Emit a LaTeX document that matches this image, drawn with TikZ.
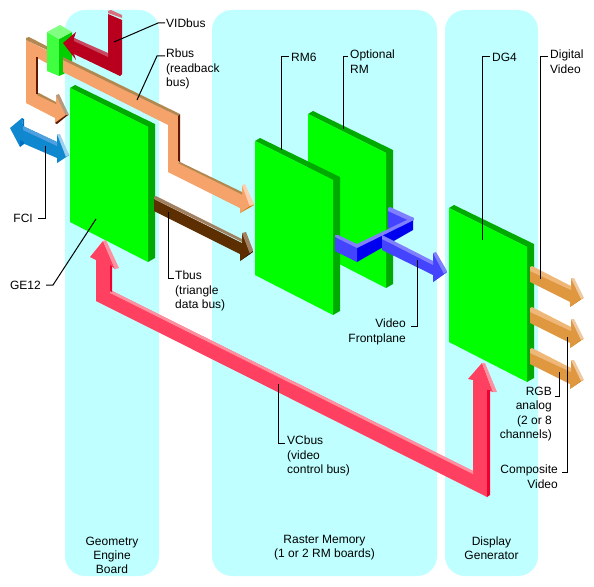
\documentclass[tikz,border=0pt]{standalone}
\usepackage{fontspec}
\setmainfont{Liberation Sans}
\usepackage{xcolor}
\usetikzlibrary{positioning}
\definecolor{panelcyan}{HTML}{BFFFFF}
\definecolor{boardface}{HTML}{00FF00}
\definecolor{boardedge}{HTML}{00AA00}
\definecolor{hubtop}{HTML}{80FF80}
\definecolor{hubface}{HTML}{40FF40}
\definecolor{hubside}{HTML}{00D000}
\definecolor{vidmain}{HTML}{B8001E}
\definecolor{vidlight}{HTML}{C84860}
\definecolor{vidcap}{HTML}{D87080}
\definecolor{rmain}{HTML}{F5A26B}
\definecolor{rstrip}{HTML}{B08850}
\definecolor{rcap}{HTML}{FFD0B0}
\definecolor{rdark}{HTML}{601800}
\definecolor{tmain}{HTML}{5C2E00}
\definecolor{tstrip}{HTML}{A08060}
\definecolor{tdark}{HTML}{201000}
\definecolor{fmain}{HTML}{1088D0}
\definecolor{fstrip}{HTML}{50A0E0}
\definecolor{fcap}{HTML}{A0D0F0}
\definecolor{fdark}{HTML}{0070C0}
\definecolor{vcmain}{HTML}{FF4060}
\definecolor{vcstrip}{HTML}{FF90A0}
\definecolor{vcdark}{HTML}{F00030}
\definecolor{fpmain}{HTML}{4444FF}
\definecolor{fpstrip}{HTML}{8080FF}
\definecolor{fpdark}{HTML}{0000F0}
\definecolor{outmain}{HTML}{E09840}
\definecolor{outstrip}{HTML}{F0B878}
\definecolor{outcap}{HTML}{F0C8A0}
\definecolor{outdark}{HTML}{D07800}
\begin{document}
\begin{tikzpicture}[x=1pt,y=-1pt,line join=miter]
    \tikzset{
      panel/.style={rounded corners=20pt,fill=panelcyan,minimum height=566pt,inner sep=0pt},
      lab/.style={inner sep=0pt,align=left,font=\fontsize{12}{14.3}\selectfont},
      caption/.style={inner sep=0pt,align=center,anchor=south,font=\fontsize{12}{14.3}\selectfont},
      leader/.style={draw=black,line width=1pt}
    }
    \useasboundingbox (0,0) rectangle (594,586);
    \node[panel,minimum width=94pt] (geompanel) at (112,293) {};
    \node[panel,minimum width=225pt] (rasterpanel) at (324.5,293) {};
    \node[panel,minimum width=93pt] (disppanel) at (491.5,293) {};
    \node[caption,above=2pt of geompanel.south] (geomcap) {Geometry\\Engine\\Board};
    \node[caption,above=16pt of rasterpanel.south] (rastercap) {Raster Memory\\(1 or 2 RM boards)};
    \node[caption,above=16pt of disppanel.south] (dispcap) {Display\\Generator};
    % boards
    \foreach \bx/\by in {70/88,308/114,255/141,449/208} {
      \begin{scope}[shift={(\bx,\by)}]
        \fill[boardedge] (0,0) -- (5,-3) -- (85,36) -- (85,170) -- (78,174) -- (78,39) -- cycle;
        \fill[boardface] (0,0) -- (78,39) -- (78,174) -- (0,134) -- cycle;
      \end{scope}
    }
    % Rbus left part
    \fill[rmain] (26,40) -- (60,57) -- (60,70) -- (37,58) -- (37,94) -- (56,103) -- (56,95) -- (68,115) -- (55,123) -- (55,118) -- (26,103) -- cycle;
    \fill[rstrip] (26,38) -- (29,37) -- (60,53) -- (60,56) -- (26,40) -- cycle;
    \fill[rstrip] (37,93) -- (39,93) -- (56,102) -- (56,104) -- (37,95) -- cycle;
    \fill[rdark] (36,57) -- (38,57) -- (38,94) -- (36,94) -- cycle;
    \fill[tstrip!80!white] (56,95) -- (59,94) -- (69,115) -- (66,116) -- cycle;
    \fill[rdark] (55,123) -- (66,115) -- (68,115) -- (57,124) -- cycle;
    % small block
    \fill[hubface] (47,32) -- (59,39) -- (59,76) -- (47,71) -- cycle;
    \fill[hubside] (59,39) -- (72,32) -- (72,70) -- (59,76) -- cycle;
    \fill[hubtop] (47,32) -- (60,25) -- (72,32) -- (59,39) -- cycle;
    % VIDbus
    \fill[vidmain] (108,14) -- (122,20) -- (122,74) -- (120,76) -- (74,54) -- (76,60) -- (63,43) -- (76,32) -- (74,38) -- (108,55) -- cycle;
    \fill[vidlight] (74,38) -- (108,53) -- (108,57) -- (74,41) -- cycle;
    \fill[vidcap] (108,11) -- (111,10) -- (122,15) -- (122,18) -- (108,13) -- cycle;
    % Rbus right part
    \fill[rmain] (63,59) -- (178,116) -- (178,162) -- (242,193) -- (242,185) -- (254,205) -- (240,213) -- (240,208) -- (168,172) -- (168,125) -- (63,72) -- cycle;
    \fill[rstrip] (63,57) -- (180,114) -- (178,116) -- (63,60) -- cycle;
    \fill[rdark] (178,116) -- (180,114) -- (180,162) -- (178,161) -- cycle;
    \fill[rstrip] (180,162) -- (242,192) -- (242,194.5) -- (178,163) -- cycle;
    \fill[rcap] (242,185) -- (245,184) -- (254,204) -- (250,207) -- cycle;
    \fill[outdark] (240,213) -- (250,206) -- (254,205) -- cycle;
    % Tbus
    \fill[tmain] (154,199) -- (242,243) -- (242,233) -- (253,252) -- (240,261) -- (240,254) -- (154,211) -- cycle;
    \fill[tstrip] (154,197) -- (156,196) -- (242,239) -- (242,242) -- (154,199) -- cycle;
    \fill[tstrip] (242,233) -- (246,232) -- (253,250) -- (250,254) -- cycle;
    \fill[tdark] (240,261) -- (250,254) -- (253,251) -- cycle;
    % FCI
    \fill[fmain] (10,128) -- (22,118) -- (23,126) -- (57,142) -- (57,134) -- (69,155) -- (57,163) -- (57,158) -- (20,142) -- (20,147) -- cycle;
    \fill[fstrip] (23,126) -- (57,142) -- (57,146) -- (23,130) -- cycle;
    \fill[fdark] (22,118) -- (24,119) -- (24,126) -- (23,126) -- cycle;
    \fill[fdark] (20,140) -- (24,142) -- (24,144) -- (20,147) -- cycle;
    \fill[fcap] (57,134) -- (60,134) -- (69,155) -- (66,157) -- cycle;
    \fill[fdark] (57,163) -- (66,157) -- (69,155) -- cycle;
    % VCbus
    \fill[vcmain] (103,241) -- (90,257) -- (96,260) -- (96,301) -- (487,497) -- (487,390) -- (493,392) -- (482,363) -- (468,379) -- (473,380) -- (473,471) -- (110,290) -- (110,265) -- (115,269) -- cycle;
    \fill[vcstrip] (110,290) -- (473,471) -- (473,474) -- (110,293) -- cycle;
    \fill[vcdark] (110,265) -- (112,266) -- (112,292) -- (110,291) -- cycle;
    \fill[vcdark] (487,390) -- (490,390) -- (490,495) -- (487,497) -- cycle;
    \fill[vcstrip] (103,241) -- (106,240) -- (119,268) -- (115,269) -- cycle;
    \fill[vcstrip] (482,363) -- (485,363) -- (497,392) -- (493,392) -- cycle;
    % Video frontplane
    \fill[fpmain] (388,210) -- (413,222) -- (393,232) -- (388,227) -- cycle;
    \fill[fpstrip] (388,208) -- (390,207) -- (414,218) -- (412,222) -- (388,211) -- cycle;
    \fill[fpdark] (357,247) -- (413,220) -- (413,230) -- (357,262) -- cycle;
    \fill[fpstrip] (357,244) -- (413,217) -- (414,220) -- (357,248) -- cycle;
    \fill[fpmain] (335,237) -- (357,247) -- (357,262) -- (335,251) -- cycle;
    \fill[fpstrip] (335,235) -- (338,235) -- (357,244) -- (357,248) -- (335,237) -- cycle;
    \fill[fpmain] (382,238) -- (433,264) -- (433,253) -- (447,272) -- (433,282) -- (433,275) -- (382,250) -- cycle;
    \fill[fpstrip] (382,235) -- (433,261) -- (433,265) -- (382,239) -- cycle;
    \fill[fpstrip] (433,253) -- (436,252) -- (447,271) -- (444,274) -- cycle;
    \fill[fpdark] (433,282) -- (444,274) -- (447,272) -- cycle;
    % outputs
    \foreach \dy in {0,41,82} {
      \begin{scope}[shift={(0,\dy)}]
        \fill[outmain] (530,268) -- (571,288) -- (571,278) -- (583,298) -- (570,307) -- (570,302) -- (530,282) -- cycle;
        \fill[outstrip] (530,267) -- (532,266) -- (571,286) -- (571,290) -- (530,271) -- cycle;
        \fill[outcap] (571,278) -- (574,278) -- (584,298) -- (581,299) -- cycle;
        \fill[outdark] (570,307) -- (581,299) -- (583,298) -- cycle;
      \end{scope}
    }
    % labels
    \node[lab,anchor=west] (vidbus) at (166,23) {VIDbus};
    \node[lab,anchor=north west] (rbus) at (166,49) {Rbus\\(readback\\bus)};
    \node[lab,anchor=east] (fci) at (33,218) {FCI};
    \node[lab,anchor=east] (ge) at (41,285) {GE12};
    \node[lab,anchor=north west] (tbus) at (175,271) {Tbus\\(triangle\\data bus)};
    \node[lab,anchor=west] (rmsix) at (291,57) {RM6};
    \node[lab,anchor=north west] (optrm) at (350,50) {Optional\\RM};
    \node[lab,anchor=west] (dg) at (492,57) {DG4};
    \node[lab,anchor=north west] (digital) at (550,50) {Digital\\Video};
    \node[lab,anchor=north east,align=right] (front) at (406,319) {Video\\Frontplane};
    \node[lab,anchor=north east,align=right] (rgb) at (552,387) {RGB\\analog\\(2 or 8\\channels)};
    \node[lab,anchor=north east,align=right] (comp) at (558,465) {Composite\\Video};
    \node[lab,anchor=north west] (vcbus) at (287,436) {VCbus\\(video\\control bus)};
    % leaders
    \coordinate (vidend) at (114,42);
    \coordinate (rbusend) at (137,100);
    \coordinate (fciend) at (45,146);
    \coordinate (geend) at (96,219);
    \coordinate (tbusend) at (168.5,212);
    \coordinate (rmsixend) at (281,150);
    \coordinate (optrmend) at (343,129);
    \coordinate (dgend) at (482,240);
    \coordinate (digitalend) at (540,279);
    \coordinate (frontend) at (417,260);
    \coordinate (rgbend) at (559,372);
    \coordinate (compend) at (567,337);
    \coordinate (vcbusend) at (278,384);
    \draw[leader] (vidbus.west) ++(-1pt,0) -- ++(-7,0) -- (vidend);
    \draw[leader] ([xshift=-1pt,yshift=-7pt]rbus.north west) -- ++(-8,0) -- (rbusend);
    \draw[leader] ([xshift=5pt]fci.east) -- ++(7,0) -| (fciend);
    \draw[leader] ([xshift=5pt]ge.east) -- ++(7,0) -- (geend);
    \draw[leader] ([xshift=-1pt,yshift=-7pt]tbus.north west) -| (tbusend);
    \draw[leader] ([xshift=-2pt]rmsix.west) -| (rmsixend);
    \draw[leader] ([xshift=-2pt,yshift=-7pt]optrm.north west) -| (optrmend);
    \draw[leader] ([xshift=-2pt]dg.west) -| (dgend);
    \draw[leader] ([xshift=-2pt,yshift=-7pt]digital.north west) -| (digitalend);
    \draw[leader] ([xshift=5pt,yshift=-7pt]front.north east) -| (frontend);
    \draw[leader] ([xshift=3pt,yshift=-9pt]rgb.north east) -| (rgbend);
    \draw[leader] ([xshift=4pt,yshift=-7pt]comp.north east) -| (compend);
    \draw[leader] ([xshift=-2pt,yshift=-7pt]vcbus.north west) -| (vcbusend);
  \end{tikzpicture}
\end{document}
